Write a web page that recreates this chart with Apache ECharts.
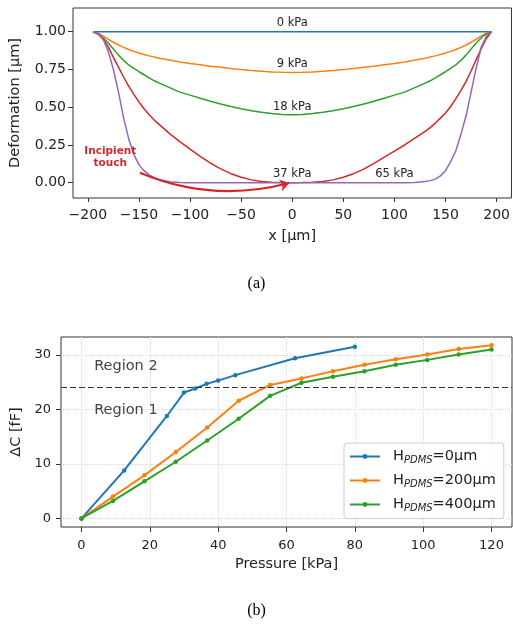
<!DOCTYPE html>
<html>
<head>
<meta charset="utf-8">
<script src="https://cdn.jsdelivr.net/npm/echarts@6/dist/echarts.min.js"></script>
<style>
  html, body { margin: 0; padding: 0; background: #fff; }
  #main { width: 513px; height: 624px; }
</style>
</head>
<body>
<div id="main"></div>
<script>
// (a) membrane profile, x in um
const xPos = [-195,-190,-185,-180,-175,-170,-165,-160,-155,-150,-145,-140,-135,-130,-120,-110,-100,-90,-80,-70,-60,-50,-40,-30,-20,-10,0,
  10,20,30,40,50,60,70,80,90,100,110,120,130,135,140,145,150,155,160,165,170,175,180,185,190,195];
const flatX = [-195, 195];
const defo0 = [1, 1];
const defo9 = [1,0.99,0.972,0.95,0.93,0.912,0.896,0.882,0.87,0.859,0.849,0.84,0.832,0.825,0.812,0.8,0.79,0.781,0.772,0.764,0.756,0.749,0.743,0.738,0.734,0.731,0.73,
  0.731,0.734,0.738,0.743,0.749,0.756,0.764,0.772,0.781,0.79,0.8,0.812,0.825,0.832,0.84,0.849,0.859,0.87,0.882,0.896,0.912,0.93,0.95,0.972,0.99,1];
const defo18 = [1,0.985,0.96,0.925,0.885,0.845,0.81,0.78,0.757,0.735,0.715,0.695,0.675,0.66,0.63,0.6,0.58,0.56,0.54,0.522,0.505,0.49,0.477,0.466,0.458,0.452,0.45,
  0.452,0.458,0.466,0.477,0.49,0.505,0.522,0.54,0.56,0.58,0.6,0.63,0.66,0.675,0.695,0.715,0.735,0.757,0.78,0.81,0.845,0.885,0.925,0.96,0.985,1];
const defo37 = [1,0.985,0.95,0.9,0.83,0.765,0.7,0.64,0.585,0.535,0.49,0.45,0.415,0.385,0.325,0.272,0.222,0.175,0.13,0.092,0.06,0.036,0.019,0.008,0.003,0.001,0,
  0.001,0.003,0.008,0.019,0.036,0.06,0.09,0.128,0.17,0.21,0.25,0.295,0.34,0.365,0.395,0.428,0.462,0.505,0.555,0.61,0.67,0.74,0.815,0.89,0.955,1];
const defo65 = [1,0.99,0.95,0.87,0.75,0.6,0.43,0.29,0.188,0.12,0.08,0.052,0.033,0.02,0.006,0.001,0,0,0,0,0,0,0,0,0,0,0,
  0,0,0,0,0,0,0,0,0,0,0,0.002,0.008,0.014,0.024,0.045,0.08,0.14,0.21,0.32,0.44,0.6,0.76,0.9,0.97,1];
const xTicksA = [-200,-150,-100,-50,0,50,100,150,200];
const yTicksA = [0,0.25,0.5,0.75,1];
const kpaNames = ['0 kPa','9 kPa','18 kPa','37 kPa','65 kPa'];
const kpaX = [0,0,0,0,100];
const kpaY = [1.056,0.784,0.503,0.058,0.058];

// (b) capacitance change vs pressure
const press0 = [0,12.5,25,30,33.3,36.6,40,45,62.5,80];
const dc0 = [0,8.8,18.8,23.1,23.85,24.7,25.3,26.3,29.4,31.5];
const press200 = [0,9.2,18.4,27.6,36.8,46,55.2,64.4,73.6,82.8,92,101.2,110.4,120];
const dc200 = [0,4.0,7.9,12.2,16.7,21.6,24.5,25.7,27.0,28.2,29.2,30.1,31.1,31.8];
const press400 = [0,9.2,18.4,27.6,36.8,46,55.2,64.4,73.6,82.8,92,101.2,110.4,120];
const dc400 = [0,3.2,6.8,10.4,14.3,18.3,22.5,24.9,26.0,27.0,28.2,29.1,30.1,31.0];
const regionLimit = 24;
const xTicksB = [0,20,40,60,80,100,120];
const yTicksB = [0,10,20,30];

const FONT = 'DejaVu Sans';
const TXT = '#222';
const blue = '#1f77b4', orange = '#ff7f0e', green = '#2ca02c', red = '#d62728', purple = '#9467bd';

function zip(xs, ys) {
  return xs.map((x, i) => [x, ys[i]]);
}
function minusFmt(v) {
  return v < 0 ? '\u2212' + (-v) : '' + v;
}

function profile(name, xs, ys, color) {
  return {
    name: name, type: 'line', xAxisIndex: 0, yAxisIndex: 0,
    data: zip(xs, ys), showSymbol: false, symbol: 'none',
    lineStyle: { color: color, width: 1.5 }, itemStyle: { color: color },
    silent: true, z: 3
  };
}
function sensor(name, xs, ys, color) {
  return {
    name: name, type: 'line', xAxisIndex: 1, yAxisIndex: 1,
    data: zip(xs, ys), symbol: 'circle', symbolSize: 4.5,
    lineStyle: { color: color, width: 2 }, itemStyle: { color: color },
    silent: true, z: 3
  };
}
// text-only marker, no symbol drawn
function note(grid, items, label) {
  return {
    type: 'scatter', xAxisIndex: grid, yAxisIndex: grid, symbolSize: 0, silent: true, z: 5,
    itemStyle: { opacity: 1 },
    data: items,
    label: Object.assign({ show: true, formatter: '{b}', fontFamily: FONT, opacity: 1 }, label)
  };
}

const chart = echarts.init(document.getElementById('main'));

const axisCommon = {
  axisLine: { show: false, onZero: false },
  splitLine: { show: false },
  nameLocation: 'middle',
  nameTextStyle: { fontFamily: FONT, fontSize: 14.5, color: TXT }
};

const option = {
  animation: false,
  backgroundColor: '#fff',
  textStyle: { fontFamily: FONT },
  grid: [
    { left: 73, top: 8, width: 439, height: 190, show: true, borderColor: '#333', borderWidth: 1, backgroundColor: 'transparent' },
    { left: 61, top: 337, width: 451, height: 190, show: true, borderColor: '#333', borderWidth: 1, backgroundColor: 'transparent' }
  ],
  xAxis: [
    Object.assign({}, axisCommon, {
      type: 'value', gridIndex: 0, min: -214.5, max: 214.5,
      name: 'x [µm]', nameGap: 31,
      axisTick: { length: 4, customValues: xTicksA, lineStyle: { color: '#333' } },
      axisLabel: { customValues: xTicksA, formatter: minusFmt, fontSize: 14, color: TXT, margin: 10 }
    }),
    Object.assign({}, axisCommon, {
      type: 'value', gridIndex: 1, min: -6, max: 126,
      name: 'Pressure [kPa]', nameGap: 30,
      axisTick: { length: 5, customValues: xTicksB, lineStyle: { color: '#333' } },
      axisLabel: { customValues: xTicksB, fontSize: 13, color: TXT, margin: 12 },
      splitLine: { show: true, lineStyle: { color: '#d8d8d8', type: 'dotted', width: 1 } }
    })
  ],
  yAxis: [
    Object.assign({}, axisCommon, {
      type: 'value', gridIndex: 0, min: -0.101, max: 1.157,
      name: 'Deformation [µm]', nameGap: 50,
      axisTick: { length: 5, customValues: yTicksA, lineStyle: { color: '#333' } },
      axisLabel: { customValues: yTicksA, formatter: v => v.toFixed(2), fontSize: 14, color: TXT, margin: 7 }
    }),
    Object.assign({}, axisCommon, {
      type: 'value', gridIndex: 1, min: -1.58, max: 33.3,
      name: 'ΔC [fF]', nameGap: 34,
      axisTick: { length: 5, customValues: yTicksB, lineStyle: { color: '#333' } },
      axisLabel: { customValues: yTicksB, fontSize: 13, color: TXT, margin: 10 },
      splitLine: { show: true, lineStyle: { color: '#d8d8d8', type: 'dotted', width: 1 } }
    })
  ],
  legend: {
    data: ['HPDMS=0µm', 'HPDMS=200µm', 'HPDMS=400µm'],
    orient: 'vertical', left: 344, top: 443,
    itemWidth: 30, itemHeight: 6, itemGap: 7.5,
    padding: [6, 8, 5, 5],
    backgroundColor: 'rgba(255,255,255,0.8)',
    borderColor: '#ccc', borderWidth: 1, borderRadius: 3,
    formatter: n => '{g|}{h|H}{s|PDMS}{h|' + n.slice(5) + '}',
    textStyle: {
      color: TXT,
      rich: {
        g: { width: 8 },
        h: { fontFamily: FONT, fontSize: 14.5, color: TXT },
        s: { fontFamily: FONT, fontSize: 10, fontStyle: 'italic', color: TXT, padding: [8, 0, 0, 0] }
      }
    }
  },
  graphic: [
    { type: 'text', left: 'center', top: 276, style: { text: '(a)', font: '16px "Liberation Serif"', fill: '#000' } },
    { type: 'text', left: 'center', top: 603, style: { text: '(b)', font: '16px "Liberation Serif"', fill: '#000' } }
  ],
  series: [
    profile('0 kPa', flatX, defo0, blue),
    profile('9 kPa', xPos, defo9, orange),
    profile('18 kPa', xPos, defo18, green),
    profile('37 kPa', xPos, defo37, red),
    profile('65 kPa', xPos, defo65, purple),
    {
      // incipient touch arrow
      type: 'lines', coordinateSystem: 'cartesian2d', xAxisIndex: 0, yAxisIndex: 0,
      data: [{ coords: [[-149, 0.066], [-3, -0.002]] }],
      symbol: ['none', 'arrow'], symbolSize: 9,
      lineStyle: { color: red, width: 2.2, curveness: -0.17, opacity: 1 },
      silent: true, z: 4
    },
    note(0, kpaNames.map((n, i) => ({ name: n, value: [kpaX[i], kpaY[i]] })),
      { position: 'inside', fontSize: 11.5, color: TXT }),
    note(0, [{ name: 'Incipient\ntouch', value: [-178, 0.17] }],
      { position: 'inside', fontSize: 10.5, fontWeight: 'bold', lineHeight: 12.5, color: red, align: 'center' }),
    Object.assign(sensor('HPDMS=0µm', press0, dc0, blue), {
      markLine: {
        silent: true, symbol: 'none', label: { show: false },
        lineStyle: { color: '#333', type: [6, 3], width: 1.2 },
        data: [{ yAxis: regionLimit }]
      }
    }),
    sensor('HPDMS=200µm', press200, dc200, orange),
    sensor('HPDMS=400µm', press400, dc400, green),
    note(1, [{ name: 'Region 2', value: [3.7, 27.9] }, { name: 'Region 1', value: [3.7, 19.9] }],
      { position: 'right', distance: 0, fontSize: 14.5, color: '#444' })
  ]
};

chart.setOption(option);
</script>
</body>
</html>
